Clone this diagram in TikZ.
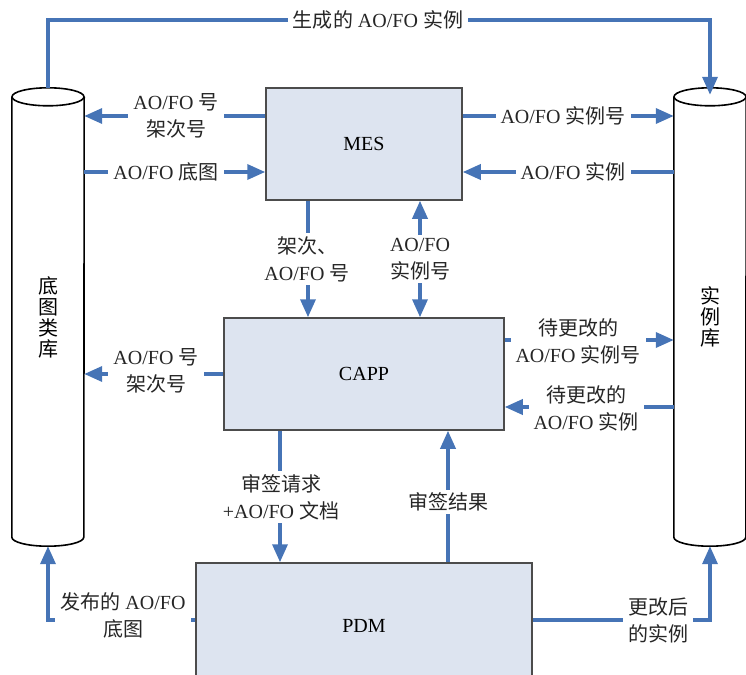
\documentclass[tikz,border=0pt]{standalone}
\usepackage{fontspec}
\setmainfont{Liberation Serif}
\newfontfamily\zhfont{Noto Sans CJK SC}
\newcommand{\zh}[1]{{\zhfont #1}}
\usetikzlibrary{arrows.meta}
\definecolor{flecha}{RGB}{70,116,182}
\definecolor{caja}{RGB}{221,228,240}
\tikzset{
  punta/.tip={Triangle[length=18pt,width=15pt]},
  sistema/.style={draw=black!70, line width=1.5pt, fill=caja, font=\fontsize{20}{24}\selectfont},
  deposito/.style={minimum width=72pt, minimum height=440pt, inner sep=0pt, align=center, font=\fontsize{20}{21}\selectfont},
  flujo/.style={line width=3.5pt, draw=flecha, -punta},
  flujodoble/.style={line width=3.5pt, draw=flecha, punta-punta},
  etiqueta/.style={fill=white, align=center, inner xsep=5pt, inner ysep=3pt, font=\fontsize{20}{27}\selectfont, text=black!85}
}
\begin{document}
\begin{tikzpicture}[x=1pt, y=-1pt]
  \useasboundingbox (0,0) rectangle (746,674);
  % Sistemas
  \node[sistema, minimum width=196pt, minimum height=112pt] (mes) at (364,144) {MES};
  \node[sistema, minimum width=280pt, minimum height=112pt] (capp) at (364,374) {CAPP};
  \node[sistema, minimum width=336pt, minimum height=126pt] (pdm) at (364,626) {PDM};
  % Bases de datos (cilindros)
  \node[deposito] (dtk) at (48,317) {\zh{底}\\\zh{图}\\\zh{类}\\\zh{库}};
  \node[deposito] (slk) at (710,317) {\zh{实}\\\zh{例}\\\zh{库}};
  \foreach \c in {dtk,slk}{
    \draw[line width=1.6pt] (\c.north west) -- (\c.south west)
      arc[start angle=180, end angle=360, x radius=36pt, y radius=9pt] -- (\c.north east);
    \draw[line width=1.6pt, fill=white] (\c.north) ellipse[x radius=36pt, y radius=9pt];
  }
  % Flujo superior
  \coordinate (cima) at (378,20);
  \draw[flujo] ([yshift=9pt]dtk.north) |- (cima) -| ([yshift=2pt]slk.north);
  % MES con las bases
  \draw[flujo] ([yshift=28pt]mes.west) -- ([yshift=28pt]mes.west -| dtk.east);
  \draw[flujo] ([yshift=-28pt]mes.west -| dtk.east) -- ([yshift=-28pt]mes.west);
  \draw[flujo] ([yshift=28pt]mes.east) -- ([yshift=28pt]mes.east -| slk.west);
  \draw[flujo] ([yshift=-28pt]mes.east -| slk.west) -- ([yshift=-28pt]mes.east);
  % MES y CAPP
  \draw[flujo] ([xshift=-56pt]mes.south) -- ([xshift=-56pt]mes.south |- capp.north);
  \draw[flujodoble] ([xshift=56pt]mes.south) -- ([xshift=56pt]mes.south |- capp.north);
  % CAPP con las bases
  \draw[flujo] (capp.west) -- (capp.west -| dtk.east);
  \draw[flujo] ([yshift=34pt]capp.east) -- ([yshift=34pt]capp.east -| slk.west);
  \draw[flujo] ([yshift=-33pt]capp.east -| slk.west) -- ([yshift=-33pt]capp.east);
  % CAPP y PDM
  \draw[flujo] ([xshift=-84pt]capp.south) -- ([xshift=-84pt]capp.south |- pdm.north);
  \draw[flujo] ([xshift=84pt]pdm.north) -- ([xshift=84pt]pdm.north |- capp.south);
  % PDM con las bases
  \draw[flujo] ([yshift=6pt]pdm.west) -| ([yshift=-9pt]dtk.south);
  \draw[flujo] ([yshift=6pt]pdm.east) -| ([yshift=-9pt]slk.south);
  % Etiquetas
  \node[etiqueta] (gen) at (cima) {\zh{生成的} AO/FO \zh{实例}};
  \node[etiqueta] (mesdtk) at (176,116) {AO/FO \zh{号}\\\zh{架次号}};
  \node[etiqueta] (dtkmes) at (166,172) {AO/FO \zh{底图}};
  \node[etiqueta] (messlk) at (563,116) {AO/FO \zh{实例号}};
  \node[etiqueta] (slkmes) at (573,172) {AO/FO \zh{实例}};
  \node[etiqueta] (mescapp) at (307,259) {\zh{架次、}\\AO/FO \zh{号}};
  \node[etiqueta] (cappmes) at (420,259) {AO/FO\\\zh{实例号}};
  \node[etiqueta] (cappdtk) at (156,371) {AO/FO \zh{号}\\\zh{架次号}};
  \node[etiqueta] (cappslk) at (578,341) {\zh{待更改的}\\AO/FO \zh{实例号}};
  \node[etiqueta] (slkcapp) at (586,408) {\zh{待更改的}\\AO/FO \zh{实例}};
  \node[etiqueta] (capppdm) at (281,497) {\zh{审签请求}\\+AO/FO \zh{文档}};
  \node[etiqueta] (pdmcapp) at (448,502) {\zh{审签结果}};
  \node[etiqueta] (pdmdtk) at (123,615) {\zh{发布的} AO/FO\\\zh{底图}};
  \node[etiqueta] (pdmslk) at (658,620) {\zh{更改后}\\\zh{的实例}};
\end{tikzpicture}
\end{document}
